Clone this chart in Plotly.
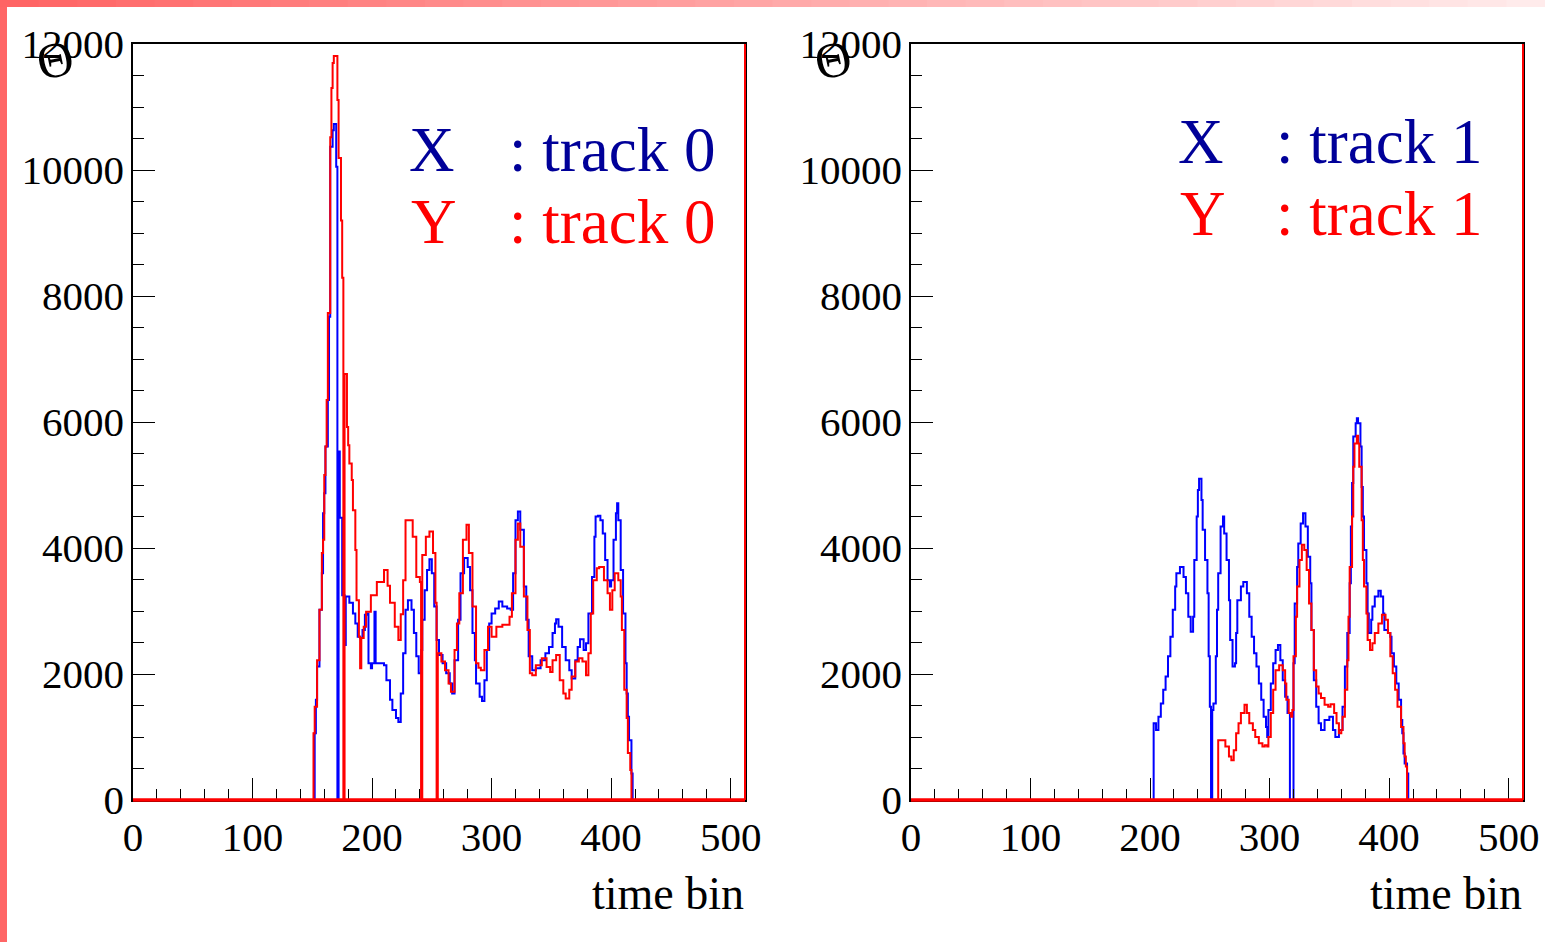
import plotly.graph_objects as go

# ---- track 0 (left panel): (time bin, counts) steps of each histogram ----
x_track0 = [(0, 0), (152, 1060), (153, 1590), (154, 2120), (156, 3020), (158, 3600), (159, 4550),
            (160, 4870), (161, 5610), (163, 6350), (164, 7670), (165, 10370), (167, 10630),
            (168, 10730), (170, 10050), (171, 0), (172, 5530), (173, 4480), (175, 3250), (177, 2460),
            (178, 3230), (181, 3130), (184, 2960), (186, 2800), (188, 2590), (190, 2570), (192, 2700),
            (194, 2940), (196, 2960), (197, 2170), (199, 2090), (200, 2170), (202, 2990), (203, 2170),
            (206, 2170), (210, 2140), (212, 1900), (215, 1590), (217, 1430), (220, 1300), (222, 1240),
            (224, 1690), (226, 2330), (228, 3020), (230, 3170), (233, 3020), (235, 2650), (237, 2280),
            (239, 2010), (241, 2380), (242, 2860), (244, 3330), (246, 3650), (248, 3820), (250, 3600),
            (252, 3070), (254, 2540), (256, 2300), (259, 2170), (262, 2010), (265, 1850), (267, 1690),
            (269, 2220), (272, 2860), (274, 3600), (277, 3840), (280, 3700), (282, 3330), (284, 2650),
            (286, 2220), (287, 1850), (290, 1640), (292, 1570), (294, 1900), (296, 2380), (298, 2800),
            (300, 2960), (303, 3040), (306, 3150), (309, 3070), (313, 3040), (316, 3020), (318, 3600),
            (320, 4440), (322, 4580), (324, 4290), (327, 3390), (329, 2860), (331, 2280), (334, 2060),
            (337, 2090), (341, 2220), (345, 2330), (348, 2430), (351, 2650), (353, 2800), (354, 2870),
            (356, 2750), (359, 2430), (362, 2220), (365, 2060), (367, 1930), (370, 2220), (372, 2430),
            (374, 2550), (377, 2380), (379, 2490), (381, 2960), (384, 3540), (386, 4180), (387, 4500),
            (389, 4510), (391, 4440), (393, 4230), (395, 3810), (397, 3490), (399, 3390), (400, 3490),
            (402, 4130), (404, 4550), (405, 4710), (406, 4440), (408, 3650), (410, 2960), (412, 2170),
            (413, 1690), (414, 1320), (415, 950), (417, 420), (418, 0), (512, 0)]

y_track0 = [(0, 0), (151, 1060), (152, 1480), (154, 2220), (156, 3020), (158, 3920), (159, 4130),
            (160, 5160), (161, 5610), (162, 6350), (163, 7730), (165, 10520), (166, 11300),
            (167, 11700), (168, 11810), (171, 11110), (172, 10190), (174, 9200), (175, 8290), (176, 0),
            (177, 6760), (179, 5920), (180, 5630), (181, 5340), (183, 5080), (184, 4600), (186, 3970),
            (187, 3170), (189, 2590), (190, 2090), (191, 2570), (193, 2750), (195, 2990), (199, 3250),
            (204, 3460), (210, 3650), (213, 3400), (215, 3130), (219, 2750), (222, 2540), (224, 2950),
            (226, 3490), (228, 4440), (231, 4440), (234, 4180), (237, 3540), (240, 3460), (241, 0),
            (242, 3890), (245, 4180), (248, 4260), (251, 3920), (253, 3130), (254, 0), (255, 2330),
            (258, 2200), (261, 2060), (264, 1850), (266, 1720), (269, 2380), (271, 2800), (273, 3280),
            (276, 4130), (279, 4370), (281, 3920), (284, 3070), (287, 2170), (289, 2100), (291, 2060),
            (294, 2380), (297, 2750), (300, 2590), (304, 2750), (309, 2780), (315, 2910), (317, 3280),
            (320, 4130), (322, 4390), (324, 4020), (327, 3230), (330, 2700), (332, 2010), (334, 1980),
            (337, 2140), (342, 2250), (346, 2110), (349, 2030), (351, 2220), (354, 2300), (357, 1900),
            (360, 1690), (362, 1610), (365, 1750), (367, 1960), (370, 2200), (373, 2250), (376, 2200),
            (379, 1980), (381, 2330), (383, 2960), (385, 3490), (388, 3680), (390, 3700), (394, 3490),
            (397, 3280), (399, 3020), (401, 3330), (403, 3600), (406, 3490), (408, 3230), (409, 2700),
            (411, 1750), (413, 1300), (414, 746), (416, 476), (417, 0), (512, 0)]

# ---- track 1 (right panel) ----
x_track1 = [(0, 0), (203, 1220), (205, 1110), (207, 1320), (209, 1530), (211, 1750), (213, 1960),
            (215, 2280), (217, 2590), (219, 3020), (221, 3390), (222, 3600), (225, 3700), (228, 3540),
            (230, 3280), (232, 2910), (234, 2670), (236, 2910), (237, 3810), (239, 4500), (240, 4920),
            (241, 5100), (243, 4760), (244, 4290), (246, 3810), (248, 3280), (249, 2280), (250, 1480),
            (251, 0), (252, 1430), (253, 1530), (255, 2280), (256, 3020), (257, 3600), (259, 4340),
            (261, 4500), (262, 4230), (264, 3810), (266, 3170), (267, 2540), (269, 2120), (271, 2170),
            (272, 2650), (273, 3170), (276, 3390), (278, 3460), (281, 3280), (283, 2910), (285, 2590),
            (287, 2330), (289, 2120), (291, 1850), (293, 1590), (295, 1320), (297, 1160), (298, 1000),
            (299, 1430), (301, 1850), (303, 2170), (305, 2380), (307, 2460), (309, 2220), (311, 1900),
            (313, 1640), (315, 1380), (317, 0), (320, 2170), (321, 3120), (323, 3700), (324, 4070),
            (326, 4390), (328, 4550), (330, 4340), (332, 3860), (334, 3440), (335, 2700), (337, 1900),
            (339, 1480), (341, 1220), (343, 1110), (346, 1270), (350, 1320), (353, 1110), (355, 1000),
            (358, 1110), (361, 1480), (363, 2120), (365, 2650), (367, 3440), (368, 4340), (369, 5030),
            (370, 5770), (372, 5980), (373, 6060), (374, 5980), (376, 5610), (377, 4970), (378, 4500),
            (379, 3970), (381, 3440), (382, 2960), (383, 2650), (385, 2860), (386, 3070), (388, 3230),
            (391, 3320), (393, 3230), (395, 2960), (396, 2700), (399, 2650), (401, 2590), (402, 2330),
            (404, 2120), (406, 1850), (408, 1590), (410, 1270), (411, 1060), (412, 740), (413, 580),
            (415, 420), (416, 0), (512, 0)]

y_track1 = [(0, 0), (257, 950), (260, 950), (263, 850), (266, 690), (268, 630), (270, 790), (272, 1060),
            (274, 1220), (276, 1380), (279, 1510), (281, 1380), (283, 1220), (286, 1110), (288, 1000),
            (291, 900), (294, 850), (296, 870), (298, 850), (299, 1000), (301, 1380), (303, 1750),
            (305, 2060), (308, 2140), (311, 2060), (313, 1850), (314, 1590), (316, 1380), (318, 1320),
            (319, 1430), (320, 2280), (322, 2910), (323, 3390), (325, 3810), (327, 4050), (329, 3970),
            (331, 3650), (333, 3120), (335, 2700), (337, 2060), (339, 1800), (341, 1690), (343, 1620),
            (346, 1510), (349, 1480), (351, 1520), (354, 1380), (356, 1220), (358, 1060), (360, 1110),
            (361, 1320), (363, 1750), (365, 2220), (366, 2910), (367, 3700), (369, 4500), (370, 5290),
            (371, 5660), (373, 5780), (374, 5660), (375, 5290), (377, 4440), (378, 3810), (379, 3390),
            (381, 2960), (382, 2540), (384, 2380), (386, 2490), (388, 2650), (391, 2800), (394, 2940),
            (397, 2860), (399, 2650), (401, 2280), (403, 2010), (405, 1750), (407, 1480), (410, 1160),
            (412, 900), (413, 690), (414, 530), (415, 0), (512, 0)]

x_ticks = [0, 100, 200, 300, 400, 500]
y_ticks = [0, 2000, 4000, 6000, 8000, 10000, 12000]

BLUE = "#0000ff"
RED = "#ff0000"
SERIF = "Liberation Serif, Times New Roman, serif"

W, H = 1545, 942
PLOT_TOP, PLOT_BOTTOM = 44, 800
panels = [
    # axis id, plot left/right px, X series, Y series, track number, label rows, colon x
    ("x", 133, 745, x_track0, y_track0, "0", (407, 150), (409, 222), 507),
    ("x2", 911, 1523, x_track1, y_track1, "1", (1176, 142), (1178, 214), 1274),
]

fig = go.Figure()
shapes = []
annotations = []

for ax, left, right, xs, ys, trk, xpos, ypos, colon_x in panels:
    yax = "y" if ax == "x" else "y2"
    for series, col in [(xs, BLUE), (ys, RED)]:
        bins, counts = zip(*series)
        fig.add_trace(go.Scatter(x=list(bins), y=list(counts), mode="lines",
                                 line=dict(color=col, width=2, shape="hv"),
                                 xaxis=ax, yaxis=yax, showlegend=False, hoverinfo="skip"))

    # red zero level along the bottom and the closing edge on the right of the frame
    shapes.append(dict(type="line", xref="paper", yref="paper",
                       x0=left / W, x1=right / W, y0=1 - PLOT_BOTTOM / H, y1=1 - PLOT_BOTTOM / H,
                       line=dict(color=RED, width=3.5), layer="above"))
    shapes.append(dict(type="line", xref="paper", yref="paper",
                       x0=right / W, x1=right / W, y0=1 - PLOT_BOTTOM / H, y1=1 - PLOT_TOP / H,
                       line=dict(color=RED, width=2), layer="above"))

    # legend text
    for (px, py), name, col in [(xpos, "X", "#000099"), (ypos, "Y", RED)]:
        annotations.append(dict(x=px / W, y=1 - py / H, xref="paper", yref="paper", text=name,
                                showarrow=False, xanchor="left", yanchor="middle",
                                font=dict(family=SERIF, size=63, color=col)))
        annotations.append(dict(x=colon_x / W, y=1 - py / H, xref="paper", yref="paper",
                                text=": track " + trk, showarrow=False, xanchor="left", yanchor="middle",
                                font=dict(family=SERIF, size=63, color=col)))
    # x-axis title
    annotations.append(dict(x=(right + 1) / W, y=1 - 893 / H, xref="paper", yref="paper", text="time bin",
                            showarrow=False, xanchor="right", yanchor="middle",
                            font=dict(family=SERIF, size=46, color="black")))
    # y-axis title glyph at the top-left corner
    annotations.append(dict(x=(left - 78) / W, y=1 - 60 / H, xref="paper", yref="paper", text="Θ",
                            showarrow=False, xanchor="center", yanchor="middle", textangle=-12,
                            font=dict(family=SERIF, size=50, color="black")))

# slide background: solid left band and a fading band along the top
shapes.append(dict(type="rect", xref="paper", yref="paper", x0=0, x1=7 / W, y0=0, y1=1,
                   fillcolor="#ff6666", line=dict(width=0), layer="below"))
n_seg = 40
for i in range(n_seg):
    t = i / (n_seg - 1)
    g = int(100 + t * 135)
    shapes.append(dict(type="rect", xref="paper", yref="paper", x0=i / n_seg, x1=(i + 1) / n_seg + 0.001,
                       y0=1 - 7 / H, y1=1, fillcolor=f"rgb(255,{g},{g})", line=dict(width=0),
                       layer="below"))

axis_common = dict(showline=True, mirror=True, linecolor="black", linewidth=1.5, showgrid=False,
                   zeroline=False, automargin=False, ticks="inside", tickcolor="black", tickwidth=1,
                   ticklen=22, tickformat="d", tickfont=dict(family=SERIF, size=41, color="black"))
xa = dict(axis_common, range=[0, 512], tickvals=x_ticks, ticklabelstandoff=0,
          minor=dict(ticks="inside", ticklen=11, dtick=20, tickcolor="black", tickwidth=1))
ya = dict(axis_common, range=[0, 12000], tickvals=y_ticks, ticklabelstandoff=-1,
          minor=dict(ticks="inside", ticklen=11, dtick=500, tickcolor="black", tickwidth=1))

ydom = [1 - PLOT_BOTTOM / H, 1 - PLOT_TOP / H]
fig.update_layout(
    width=W, height=H, margin=dict(l=0, r=0, t=0, b=0, autoexpand=False), autosize=False,
    paper_bgcolor="white", plot_bgcolor="white",
    xaxis=dict(xa, domain=[133 / W, 745 / W], anchor="y"),
    yaxis=dict(ya, domain=ydom, anchor="x"),
    xaxis2=dict(xa, domain=[911 / W, 1523 / W], anchor="y2"),
    yaxis2=dict(ya, domain=ydom, anchor="x2"),
    shapes=shapes, annotations=annotations,
)

fig.write_html(
    "out.html",
    config={"responsive": False, "displayModeBar": False},
    post_script="document.body.style.margin='0';document.body.style.overflow='hidden';",
)
